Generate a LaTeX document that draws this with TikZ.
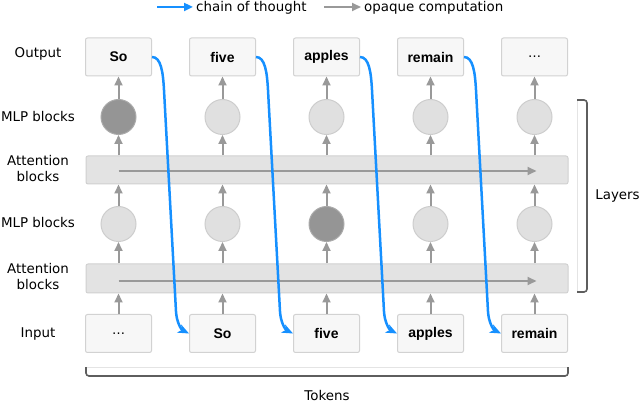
\documentclass[tikz,border=0pt]{standalone}
\usepackage{fontspec}
\setmainfont{DejaVu Sans}
\newfontfamily\tokfont{Liberation Sans}
\usetikzlibrary{arrows.meta,calc}
\definecolor{boxfill}{HTML}{F7F7F7}
\definecolor{boxdraw}{HTML}{D2D2D2}
\definecolor{circfill}{HTML}{E0E0E0}
\definecolor{circdraw}{HTML}{CDCDCD}
\definecolor{darkfill}{HTML}{959595}
\definecolor{darkdraw}{HTML}{ABABAB}
\definecolor{bandfill}{HTML}{E3E3E3}
\definecolor{banddraw}{HTML}{D0D0D0}
\definecolor{arrowgray}{HTML}{999999}
\definecolor{cotblue}{HTML}{1690FF}
\definecolor{brackdark}{HTML}{5E5E5E}
\definecolor{bracklight}{HTML}{E4E4E4}
\tikzset{
  lbl/.style={font=\fontsize{13.4}{16}\selectfont, align=center, inner sep=0pt},
  tokbox/.style={draw=boxdraw, fill=boxfill, rounded corners=2pt, line width=1pt,
    minimum width=66pt, minimum height=38pt, inner sep=0pt,
    font=\tokfont\fontsize{14}{16}\selectfont\bfseries},
  dotbox/.style={tokbox, font=\fontsize{13}{16}\selectfont},
  lightcirc/.style={circle, draw=circdraw, fill=circfill, line width=1pt, minimum size=35pt, inner sep=0pt},
  darkcirc/.style={circle, draw=darkdraw, fill=darkfill, line width=1pt, minimum size=35pt, inner sep=0pt},
  band/.style={draw=banddraw, fill=bandfill, rounded corners=2pt, line width=1pt,
    minimum width=482pt, inner sep=0pt},
  garrow/.style={draw=arrowgray, line width=2pt, -{Triangle[length=9pt,width=8pt]}},
  barrow/.style={draw=cotblue, line width=2.5pt, -{Stealth[length=11pt,width=9pt,inset=3pt]}},
  brack/.style={draw=brackdark, line width=1.6pt, rounded corners=3pt},
  brackl/.style={draw=bracklight, line width=1pt},
}
\begin{document}
\begin{tikzpicture}[x=1pt,y=-1pt]
\useasboundingbox (0,0) rectangle (640,403);

% legend
\coordinate (lb1) at (157,7);
\coordinate (lb2) at (193,7);
\draw[barrow, -{Triangle[length=9pt,width=8pt]}] (lb1) -- (lb2);
\node[lbl, anchor=west] (lbt) at (196,7.5) {chain of thought};
\coordinate (lg1) at (324,7);
\coordinate (lg2) at (361,7);
\draw[garrow] (lg1) -- (lg2);
\node[lbl, anchor=west] (lgt) at (364,7.5) {opaque computation};

% left labels
\node[lbl] (lout) at (38,54) {Output};
\node[lbl] (lmlp1) at (38,117) {MLP blocks};
\node[lbl] (latt1) at (38,169) {Attention\\blocks};
\node[lbl] (lmlp2) at (38,223) {MLP blocks};
\node[lbl] (latt2) at (38,277) {Attention\\blocks};
\node[lbl] (lin) at (38,334) {Input};

% bands
\node[band, minimum height=28pt] (att1) at (327,170) {};
\node[band, minimum height=29pt] (att2) at (327,278.5) {};

% output boxes
\node[tokbox] (o1) at (118.5,57) {So};
\node[tokbox] (o2) at (222.5,57) {five};
\node[tokbox] (o3) at (326.5,57) {apples};
\node[tokbox] (o4) at (430.5,57) {remain};
\node[dotbox] (o5) at (534.5,57) {…};

% input boxes
\node[dotbox] (i1) at (118.5,333.5) {…};
\node[tokbox] (i2) at (222.5,333.5) {So};
\node[tokbox] (i3) at (326.5,333.5) {five};
\node[tokbox] (i4) at (430.5,333.5) {apples};
\node[tokbox] (i5) at (534.5,333.5) {remain};

% MLP circles
\node[darkcirc] (a1) at (118.5,117) {};
\node[lightcirc] (a2) at (222.5,117) {};
\node[lightcirc] (a3) at (326.5,117) {};
\node[lightcirc] (a4) at (430.5,117) {};
\node[lightcirc] (a5) at (534.5,117) {};
\node[lightcirc] (b1) at (118.5,224) {};
\node[lightcirc] (b2) at (222.5,224) {};
\node[darkcirc] (b3) at (326.5,224) {};
\node[lightcirc] (b4) at (430.5,224) {};
\node[lightcirc] (b5) at (534.5,224) {};

% vertical gray arrows
\foreach \k in {1,...,5}{
  \draw[garrow] (i\k.north) -- (i\k.north |- att2.south);
  \draw[garrow] (b\k.south |- att2.north) -- (b\k.south);
  \draw[garrow] (b\k.north) -- (b\k.north |- att1.south);
  \draw[garrow] (a\k.south |- att1.north) -- (a\k.south);
  \draw[garrow] (a\k.north) -- (o\k.south);
}

% horizontal arrows in bands
\draw[garrow] ($(o1 |- att1)+(0,1)$) -- ($(o5 |- att1)+(2,1)$);
\draw[garrow] ($(o1 |- att2)+(0,2.5)$) -- ($(o5 |- att2)+(2,2.5)$);

% chain of thought arrows
\foreach \k/\j in {1/2,2/3,3/4,4/5}{
  \draw[barrow] (o\k.east) .. controls +(9,0) and +(-1,-18) .. ($(o\k.east)+(12,33)$)
     -- ($(i\j.west)+(-13,-22)$) .. controls +(0.5,10) and +(-8,-4) .. (i\j.west);
}

% right bracket
\coordinate (rb1) at (577,100);
\coordinate (rb2) at (587,292);
\coordinate (rb3) at (577,292);
\draw[brackl] (rb1) -- (rb3);
\draw[brack] (rb1) -| (rb2) -- (rb3);
\node[lbl] (layers) at (617.5,196) {Layers};

% bottom bracket
\coordinate (bb1) at (86,367);
\coordinate (bb2) at (568,376);
\coordinate (bb3) at (568,367);
\draw[brackl] (bb1) -- (bb3);
\draw[brack] (bb1) |- (bb2) -- (bb3);
\node[lbl] (tokens) at (327,395.5) {Tokens};
\end{tikzpicture}
\end{document}
